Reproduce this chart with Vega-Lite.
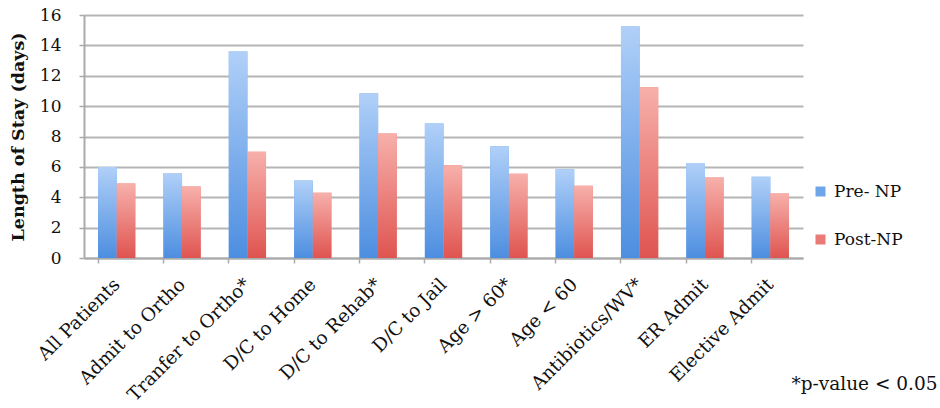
{
  "$schema": "https://vega.github.io/schema/vega-lite/v6.json",
  "autosize": {"type": "none"},
  "width": 719,
  "height": 243,
  "padding": {"left": 84, "top": 15, "right": 137, "bottom": 150},
  "background": "white",
  "config": {"view": {"stroke": null}, "font": "DejaVu Serif"},
  "data": {"values": [
    {"cat": "All Patients", "series": "Pre- NP", "v": 6.0},
    {"cat": "All Patients", "series": "Post-NP", "v": 4.9},
    {"cat": "Admit to Ortho", "series": "Pre- NP", "v": 5.6},
    {"cat": "Admit to Ortho", "series": "Post-NP", "v": 4.7},
    {"cat": "Tranfer to Ortho*", "series": "Pre- NP", "v": 13.6},
    {"cat": "Tranfer to Ortho*", "series": "Post-NP", "v": 7.0},
    {"cat": "D/C to Home", "series": "Pre- NP", "v": 5.1},
    {"cat": "D/C to Home", "series": "Post-NP", "v": 4.3},
    {"cat": "D/C to Rehab*", "series": "Pre- NP", "v": 10.85},
    {"cat": "D/C to Rehab*", "series": "Post-NP", "v": 8.2},
    {"cat": "D/C to Jail", "series": "Pre- NP", "v": 8.85},
    {"cat": "D/C to Jail", "series": "Post-NP", "v": 6.1},
    {"cat": "Age > 60*", "series": "Pre- NP", "v": 7.35},
    {"cat": "Age > 60*", "series": "Post-NP", "v": 5.55},
    {"cat": "Age < 60", "series": "Pre- NP", "v": 5.85},
    {"cat": "Age < 60", "series": "Post-NP", "v": 4.75},
    {"cat": "Antibiotics/WV*", "series": "Pre- NP", "v": 15.25},
    {"cat": "Antibiotics/WV*", "series": "Post-NP", "v": 11.25},
    {"cat": "ER Admit", "series": "Pre- NP", "v": 6.25},
    {"cat": "ER Admit", "series": "Post-NP", "v": 5.3},
    {"cat": "Elective Admit", "series": "Pre- NP", "v": 5.35},
    {"cat": "Elective Admit", "series": "Post-NP", "v": 4.25}
  ]},
  "encoding": {
    "x": {
      "field": "cat", "type": "nominal", "sort": null,
      "scale": {"paddingInner": 0.43, "paddingOuter": 0.215},
      "axis": {
        "title": "*p-value < 0.05",
        "titleFont": "DejaVu Serif", "titleFontSize": 18.5, "titleFontWeight": "normal",
        "titleColor": "#111", "titleAlign": "right", "titleBaseline": "middle",
        "titleAnchor": null, "titleX": 853, "titleY": 125, "titleAngle": 0,
        "labelAngle": -45, "labelAlign": "right", "labelBaseline": "middle",
        "labelFont": "DejaVu Serif", "labelFontSize": 18.5, "labelColor": "#111",
        "labelPadding": 18, "labelOverlap": false, "labelLimit": 300,
        "bandPosition": 0, "tickSize": 5, "tickColor": "#aaaaaa", "tickWidth": 1.5,
        "domainColor": "#aaaaaa", "domainWidth": 2, "grid": false
      }
    },
    "xOffset": {"field": "series", "type": "nominal", "scale": {"domain": ["Pre- NP", "Post-NP"], "paddingInner": 0}},
    "y": {
      "field": "v", "type": "quantitative",
      "scale": {"domain": [0, 16]},
      "axis": {
        "title": "Length of Stay (days)", "titleFont": "DejaVu Serif", "titleFontSize": 17.5,
        "titleFontWeight": "bold", "titleColor": "#111", "titlePadding": 12,
        "values": [0, 2, 4, 6, 8, 10, 12, 14, 16],
        "labelFont": "DejaVu Serif", "labelFontSize": 17, "labelColor": "#111", "labelPadding": 18,
        "tickSize": 5, "tickColor": "#aaaaaa", "tickWidth": 1.5,
        "domainColor": "#aaaaaa", "domainWidth": 2,
        "grid": true, "gridColor": "#b5b5b5", "gridWidth": 2
      }
    }
  },
  "layer": [
    {
      "mark": {"type": "bar"},
      "encoding": {
        "color": {
          "field": "series", "type": "nominal",
          "scale": {"domain": ["Pre- NP", "Post-NP"], "range": ["#6fa6ea", "#ea7a75"]},
          "legend": {
            "title": null, "orient": "none", "legendX": 728, "legendY": 168,
            "symbolType": "square", "symbolSize": 100, "symbolStrokeWidth": 0,
            "labelFont": "DejaVu Serif", "labelFontSize": 17, "labelColor": "#111",
            "rowPadding": 30, "labelOffset": 5
          }
        }
      }
    },
    {
      "transform": [{"filter": "datum.series === 'Pre- NP'"}],
      "mark": {"type": "bar", "color": {"gradient": "linear", "x1": 0, "y1": 0, "x2": 0, "y2": 1, "stops": [{"offset": 0, "color": "#b0d0f8"}, {"offset": 1, "color": "#4d8ee0"}]}}
    },
    {
      "transform": [{"filter": "datum.series === 'Post-NP'"}],
      "mark": {"type": "bar", "color": {"gradient": "linear", "x1": 0, "y1": 0, "x2": 0, "y2": 1, "stops": [{"offset": 0, "color": "#f7b0ab"}, {"offset": 1, "color": "#df5450"}]}}
    }
  ]
}
